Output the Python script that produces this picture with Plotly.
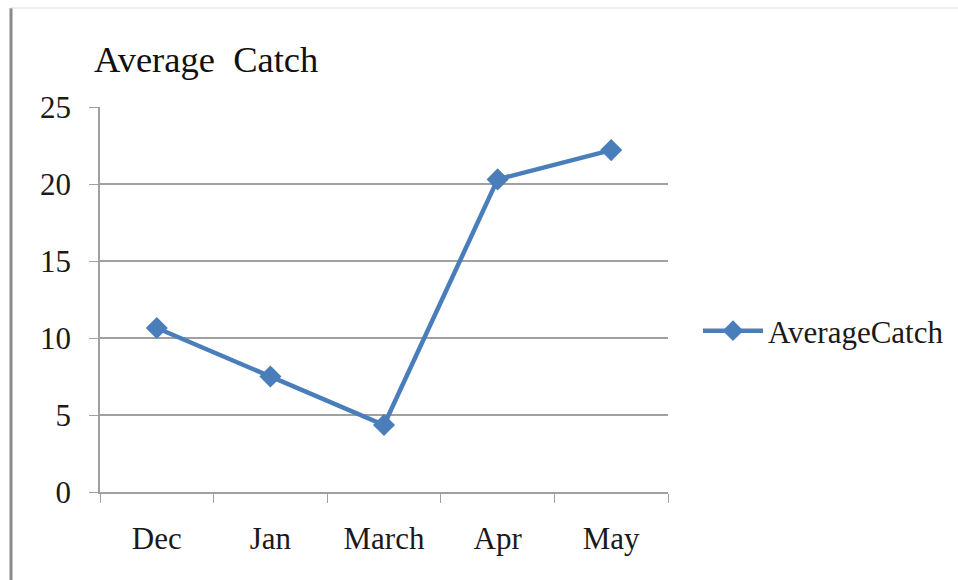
import plotly.graph_objects as go

categories = ["Dec", "Jan", "March", "Apr", "May"]
values = [10.65, 7.5, 4.35, 20.3, 22.2]
series_name = "AverageCatch"
y_ticks = [0, 5, 10, 15, 20, 25]

W, H = 958, 580
L, R, T, B = 100, 290, 107, 88
pw, ph = W - L - R, H - T - B

def px_x(x):
    return (x - L) / pw

def px_y(y):
    return (H - B - y) / ph

serif = "Liberation Serif, Times New Roman, serif"
blue = "#4a7ebb"
grid = "#a0a0a0"
txt = "#1a1a1a"

fig = go.Figure()
fig.add_trace(go.Scatter(
    x=categories, y=values, name=series_name, mode="lines+markers",
    line=dict(color=blue, width=4.5),
    marker=dict(symbol="diamond", size=17, color=blue),
))

fig.update_layout(
    width=W, height=H,
    margin=dict(l=L, r=R, t=T, b=B, autoexpand=False),
    paper_bgcolor="white", plot_bgcolor="white",
    font=dict(family=serif, size=31, color=txt),
    title=dict(text="Average  Catch", x=94 / W, xanchor="left", xref="container",
               y=1 - 59 / H, yanchor="middle", yref="container",
               font=dict(family=serif, size=36.5, color="#111")),
    showlegend=True,
    legend=dict(x=px_x(698), xanchor="left", y=px_y(331), yanchor="middle",
                font=dict(family=serif, size=31, color=txt),
                bgcolor="rgba(0,0,0,0)", itemwidth=60),
    xaxis=dict(type="category", range=[-0.5, 4.5], showline=True, linecolor=grid,
               linewidth=1.5, ticks="outside", tickson="boundaries", ticklen=9,
               tickcolor=grid, showgrid=False, zeroline=False, fixedrange=True,
               tickfont=dict(family=serif, size=31, color=txt),
               ticklabelstandoff=18),
    yaxis=dict(range=[0, 25], tickvals=y_ticks, showline=True, linecolor=grid,
               linewidth=1.5, ticks="outside", ticklen=9, tickcolor=grid,
               showgrid=True, gridcolor=grid, gridwidth=1.5, zeroline=False,
               tickfont=dict(family=serif, size=31, color=txt),
               ticklabelstandoff=12),
    shapes=[
        dict(type="line", xref="paper", yref="paper", x0=px_x(11), x1=px_x(11),
             y0=px_y(8), y1=px_y(582), line=dict(color="#8a8a8a", width=3)),
        dict(type="line", xref="paper", yref="paper", x0=px_x(10), x1=px_x(960),
             y0=px_y(8), y1=px_y(8), line=dict(color="#dddddd", width=1)),
    ],
)

fig.write_html("out.html")
